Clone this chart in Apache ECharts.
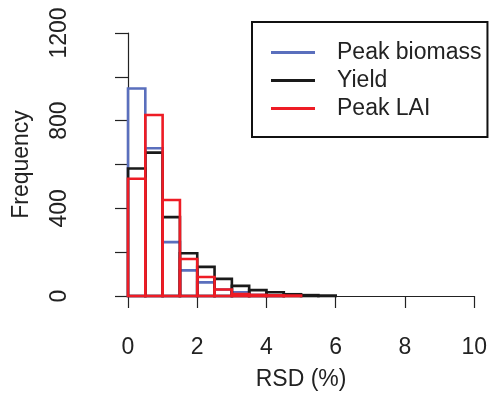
<!DOCTYPE html>
<html>
<head>
<meta charset="utf-8">
<script src="https://cdn.jsdelivr.net/npm/echarts@6/dist/echarts.min.js"></script>
<style>html,body{margin:0;padding:0;background:#fff}#c{width:490px;height:397px}</style>
</head>
<body>
<div id="c"></div>
<script>
const binWidth = 0.5;
const seriesNames = ['Peak biomass', 'Yield', 'Peak LAI'];
const peakBiomass = [947, 674, 246, 117, 62, 30, 17, 5, 2];
const yieldCounts = [582, 654, 360, 195, 133, 78, 46, 27, 17, 8, 4, 2];
const peakLAI = [535, 826, 438, 169, 87, 30, 9, 5, 3, 2];
const xTicks = [0, 2, 4, 6, 8, 10];
const yTicks = [0, 400, 800, 1200];
const colors = ['#5a6fbd', '#1a1a1a', '#ee1c25'];

const FONT = "'Liberation Sans', Arial, Helvetica, sans-serif";

function toBins(counts) {
  return counts.map((v, i) => [i * binWidth, (i + 1) * binWidth, v]);
}

function makeSeries(name, counts, color) {
  return {
    type: 'custom',
    name: name,
    itemStyle: { color: color },
    data: toBins(counts),
    encode: { x: [0, 1], y: 2 },
    renderItem: function (params, api) {
      const p0 = api.coord([api.value(0), 0]);
      const p1 = api.coord([api.value(1), api.value(2)]);
      return {
        type: 'rect',
        shape: { x: p0[0], y: p1[1], width: p1[0] - p0[0], height: p0[1] - p1[1] },
        style: { fill: null, stroke: color, lineWidth: 2.6 }
      };
    }
  };
}

const chart = echarts.init(document.getElementById('c'), null, { renderer: 'canvas' });
chart.setOption({
  animation: false,
  backgroundColor: '#fff',
  textStyle: { fontFamily: FONT },
  grid: { left: 128, right: 14, top: 33, bottom: 101, containLabel: false },
  xAxis: {
    type: 'value', min: 0, max: 10, interval: 2, offset: 12,
    name: 'RSD (%)', nameLocation: 'middle', nameGap: 60,
    nameTextStyle: { fontSize: 23, color: '#222', fontFamily: FONT },
    axisLine: { show: true, lineStyle: { color: '#222', width: 1.2 } },
    axisTick: { show: true, length: 12, lineStyle: { color: '#222', width: 1.2 } },
    splitLine: { show: false },
    axisLabel: {
      fontSize: 23, color: '#222', margin: 28, fontFamily: FONT,
      formatter: v => xTicks.includes(v) ? String(v) : ''
    }
  },
  yAxis: {
    type: 'value', min: 0, max: 1200, interval: 200, offset: 15,
    name: 'Frequency', nameLocation: 'middle', nameGap: 80, nameRotate: 90,
    nameTextStyle: { fontSize: 23, color: '#222', fontFamily: FONT },
    axisLine: { show: true, lineStyle: { color: '#222', width: 1.2 } },
    axisTick: { show: true, length: 13, lineStyle: { color: '#222', width: 1.2 } },
    splitLine: { show: false },
    axisLabel: {
      fontSize: 23, color: '#222', margin: 42, rotate: 90, fontFamily: FONT,
      formatter: v => yTicks.includes(v) ? String(v) : ''
    }
  },
  legend: {
    orient: 'vertical', left: 252, top: 22,
    padding: [19, 6, 17, 19],
    borderColor: '#111', borderWidth: 2,
    itemWidth: 44, itemHeight: 3, itemGap: 5,
    icon: 'rect',
    textStyle: { fontSize: 23, color: '#222', fontFamily: FONT, padding: [0, 0, 0, 17] },
    data: seriesNames.map((n, i) => ({ name: n, itemStyle: { color: colors[i] } }))
  },
  series: [
    makeSeries(seriesNames[0], peakBiomass, colors[0]),
    makeSeries(seriesNames[1], yieldCounts, colors[1]),
    makeSeries(seriesNames[2], peakLAI, colors[2])
  ]
});
</script>
</body>
</html>
